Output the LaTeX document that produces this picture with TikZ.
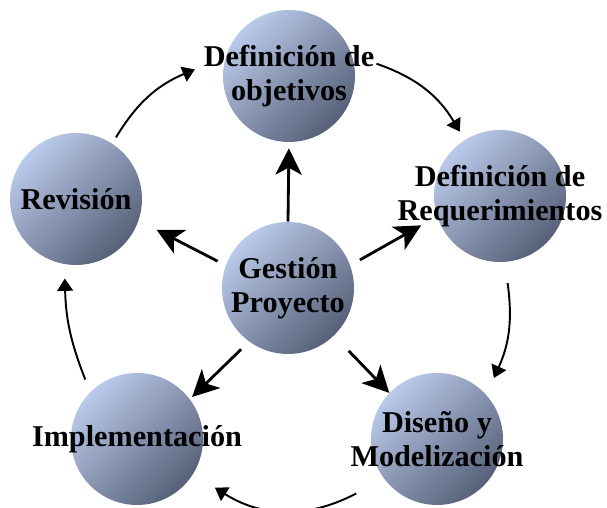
\documentclass[tikz,border=0pt]{standalone}
\usepackage{fontspec}
\setmainfont{Liberation Serif}
\usepackage{xcolor}
\usetikzlibrary{arrows.meta,positioning}
\definecolor{balllight}{RGB}{186,202,234}
\definecolor{balldark}{RGB}{86,96,120}
\tikzset{
	ball/.style={circle,minimum size=2.64cm,inner sep=0pt,shading=axis,top color=balllight,bottom color=balldark,shading angle=45},
	balltext/.style={align=center,font=\fontsize{17.2}{19.4}\selectfont\bfseries},
	spoke/.style={line width=1.6pt,-{Stealth[length=15pt,width=15pt,inset=4pt]}},
	roundarrow/.style={line width=1.1pt,-{Triangle[length=7pt,width=9pt]},bend left=#1},
}
\begin{document}
\begin{tikzpicture}
	\useasboundingbox (0,0) rectangle (12.14,10.16);
	% balls
	\node[ball,label={[balltext]center:Definición de\\objetivos}] (obj) at (5.78,8.64) {};
	\node[ball,label={[balltext]center:Revisión}] (rev) at (1.52,6.18) {};
	\node[ball,label={[balltext]center:Definición de\\Requerimientos}] (req) at (10.00,6.24) {};
	\node[ball,label={[balltext]center:Gestión\\Proyecto}] (ges) at (5.76,4.40) {};
	\node[ball,label={[balltext]center:Diseño y\\Modelización}] (dis) at (8.74,1.38) {};
	\node[ball,label={[balltext]center:Implementación}] (imp) at (2.74,1.38) {};
	% spokes from the centre
	\draw[spoke,shorten >=0.12cm] (ges.90) -- (obj.270);
	\draw[spoke,shorten <=0.18cm,shorten >=0.4cm] (ges.160) -- (rev.-19);
	\draw[spoke,shorten <=0.22cm,shorten >=0.36cm] (ges.20) -- (req.198);
	\draw[spoke,shorten <=0.22cm,shorten >=0.06cm] (ges.234) -- (imp.37);
	\draw[spoke,shorten <=0.42cm] (ges.-46) -- (dis.136);
	% outer cycle
	\draw[roundarrow=18] ([shift={(57:0.14)}]rev.57) to ([shift={(176:0.56)}]obj.176);
	\draw[roundarrow=20] ([shift={(8:0.44)}]obj.8) to ([shift={(122:0.19)}]req.122);
	\draw[roundarrow=16] ([shift={(-85:0.42)}]req.-85) to ([shift={(47:0.34)}]dis.47);
	\draw[roundarrow=30] ([shift={(214:0.62)}]dis.214) to ([shift={(-32:0.51)}]imp.-32);
	\draw[roundarrow=10] ([shift={(131:0.25)}]imp.131) to ([shift={(262:0.28)}]rev.262);
\end{tikzpicture}
\end{document}
